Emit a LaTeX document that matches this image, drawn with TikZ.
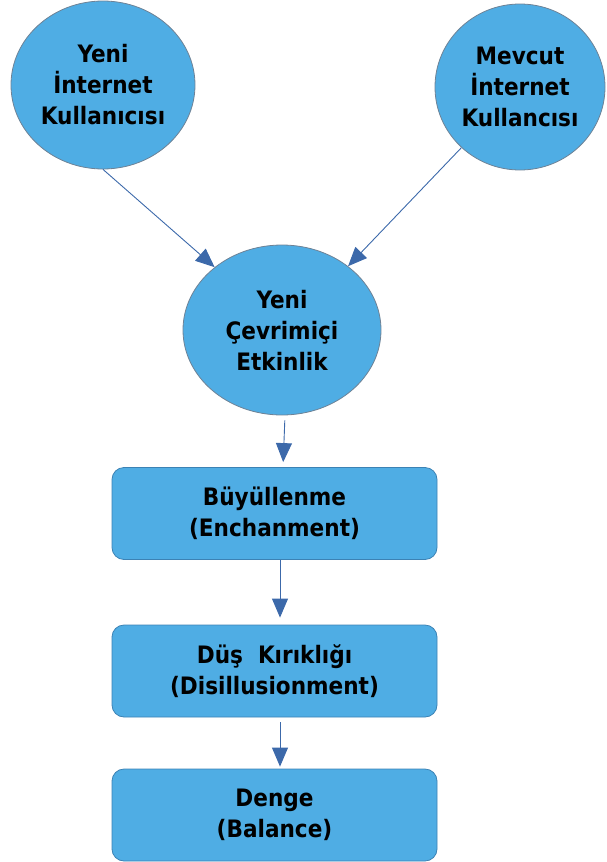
\documentclass[tikz,border=0pt]{standalone}
\usepackage{fontspec}
\newfontfamily\lbl{DejaVu Sans Condensed}
\usetikzlibrary{shapes.geometric,arrows.meta,calc}
\definecolor{nodefill}{RGB}{79,173,228}
\definecolor{circborder}{RGB}{110,130,150}
\definecolor{boxborder}{RGB}{60,130,180}
\definecolor{arrowcol}{RGB}{60,105,170}
\begin{document}
\begin{tikzpicture}[x=1pt,y=1pt,
  every node/.style={font=\lbl\bfseries\fontsize{24}{31}\selectfont, text=black, align=center},
  circ/.style={ellipse, draw=circborder, line width=0.8pt, fill=nodefill, inner sep=0pt},
  stagebox/.style={rectangle, rounded corners=12pt, draw=boxborder, line width=0.8pt, fill=nodefill,
     minimum width=325pt, minimum height=92pt, inner sep=0pt},
  arr/.style={draw=arrowcol, line width=0.9pt, -{Triangle[length=19pt,width=16pt]}, arrowcol}]
\useasboundingbox (0,0) rectangle (606,-862);
\node[circ, minimum width=184pt, minimum height=168pt] (A) at (103,-85) {Yeni\\İnternet\\Kullanıcısı};
\node[circ, minimum width=170pt, minimum height=166pt] (B) at (520,-87) {Mevcut\\İnternet\\Kullancısı};
\node[circ, minimum width=198pt, minimum height=170pt] (C) at (282,-330) {Yeni\\Çevrimiçi\\Etkinlik};
\node[stagebox] (D1) at (274.5,-513.5) {Büyüllenme\\(Enchanment)};
\node[stagebox] (D2) at (274.5,-671) {Düş\ \ Kırıklığı\\(Disillusionment)};
\node[stagebox] (D3) at (274.5,-815) {Denge\\(Balance)};
\coordinate (ax) at (280,0);
\coordinate (cx1) at (285,0);
\coordinate (cx2) at (283,0);
\draw[arr] (A.south) -- (C.137);
\draw[arr] (B.226) -- (C.44);
\draw[arr, shorten <=5pt, shorten >=5pt] (C.south -| cx1) -- (D1.north -| cx2);
\draw[arr, shorten >=7pt] (D1.south -| ax) -- (D2.north -| ax);
\draw[arr, shorten <=5pt, shorten >=2pt] (D2.south -| ax) -- (D3.north -| ax);
\end{tikzpicture}
\end{document}
